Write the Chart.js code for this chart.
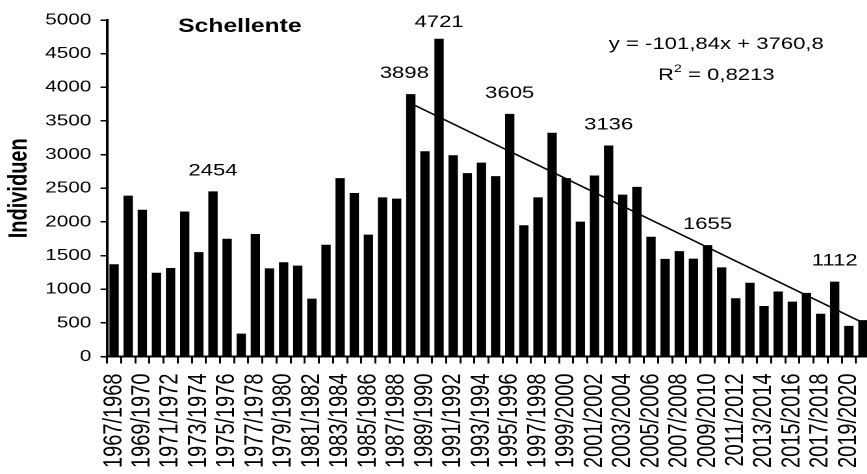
<!DOCTYPE html>
<html lang="de">
<head>
    <meta charset="UTF-8">
    <title>Schellente</title>
    <script src="https://cdn.jsdelivr.net/npm/chart.js"></script>
    <style>
        html, body { margin: 0; padding: 0; background: #fff; overflow: hidden; width: 867px; height: 474px; }
        /* the original picture is stretched sideways, so the chart is drawn narrower and widened */
        #wrap { width: 670px; height: 474px; transform: scaleX(1.3); transform-origin: 0 0; }
    </style>
</head>
<body>
<div id="wrap"><canvas id="schellenteChart"></canvas></div>
<script>
    const seasons = [
        '1967/1968', '1968/1969', '1969/1970', '1970/1971', '1971/1972', '1972/1973',
        '1973/1974', '1974/1975', '1975/1976', '1976/1977', '1977/1978', '1978/1979',
        '1979/1980', '1980/1981', '1981/1982', '1982/1983', '1983/1984', '1984/1985',
        '1985/1986', '1986/1987', '1987/1988', '1988/1989', '1989/1990', '1990/1991',
        '1991/1992', '1992/1993', '1993/1994', '1994/1995', '1995/1996', '1996/1997',
        '1997/1998', '1998/1999', '1999/2000', '2000/2001', '2001/2002', '2002/2003',
        '2003/2004', '2004/2005', '2005/2006', '2006/2007', '2007/2008', '2008/2009',
        '2009/2010', '2010/2011', '2011/2012', '2012/2013', '2013/2014', '2014/2015',
        '2015/2016', '2016/2017', '2017/2018', '2018/2019', '2019/2020', '2020/2021'
    ];
    const individuen = [
        1370, 2390, 2180, 1245, 1315, 2155,
        1550, 2454, 1750, 340, 1820, 1310,
        1400, 1350, 860, 1660, 2650, 2430,
        1810, 2365, 2345, 3898, 3050, 4721,
        2990, 2725, 2880, 2680, 3605, 1950,
        2365, 3325, 2650, 2005, 2690, 3136,
        2405, 2520, 1780, 1450, 1565, 1455,
        1655, 1325, 865, 1095, 750, 965,
        815, 945, 635, 1112, 455, 540
    ];
    const yTicks = [0, 500, 1000, 1500, 2000, 2500, 3000, 3500, 4000, 4500, 5000];
    // seasons whose count is written above the bar
    const labelledSeasons = ['1974/1975', '1988/1989', '1990/1991', '1995/1996', '2002/2003', '2009/2010', '2018/2019'];

    // linear trend from 1988/1989 (x = 0) to 2020/2021
    const trendSlope = -101.84;
    const trendIntercept = 3760.8;
    const trendFirst = '1988/1989';
    const trendLast = '2020/2021';
    const trendText = 'y = -101,84x + 3760,8';
    const r2Text = '0,8213';

    const i0 = seasons.indexOf(trendFirst);
    const i1 = seasons.indexOf(trendLast);
    const trendData = seasons.map((s, i) =>
        (i === i0 || i === i1) ? trendSlope * (i - i0) + trendIntercept : null);

    const FONT = "'Liberation Sans', Arial, sans-serif";

    const annotations = {
        id: 'annotations',
        afterDatasetsDraw(chart) {
            const ctx = chart.ctx;
            const bars = chart.getDatasetMeta(0).data;
            ctx.save();
            ctx.fillStyle = '#000';
            ctx.textBaseline = 'alphabetic';

            // values over the marked bars
            ctx.font = '17px ' + FONT;
            ctx.textAlign = 'center';
            labelledSeasons.forEach(s => {
                const i = seasons.indexOf(s);
                const b = bars[i];
                let dx = 0, dy = 16;
                if (s === '1988/1989') dx = -5;
                if (s === '1990/1991') dy = 12;
                ctx.fillText(String(individuen[i]), b.x + dx, b.y - dy);
            });

            // species name
            ctx.font = 'bold 19px ' + FONT;
            ctx.textAlign = 'left';
            ctx.fillText('Schellente', 137, 32);

            // trend equation
            ctx.font = '17px ' + FONT;
            ctx.textAlign = 'center';
            ctx.fillText(trendText, 551, 49);

            ctx.textAlign = 'left';
            const wR = ctx.measureText('R').width;
            const wRest = ctx.measureText(' = ' + r2Text).width;
            ctx.font = '11px ' + FONT;
            const w2 = ctx.measureText('2').width;
            let x = 551 - (wR + w2 + wRest) / 2;
            ctx.font = '17px ' + FONT;
            ctx.fillText('R', x, 80);
            ctx.font = '11px ' + FONT;
            ctx.fillText('2', x + wR, 72);
            ctx.font = '17px ' + FONT;
            ctx.fillText(' = ' + r2Text, x + wR + w2, 80);
            ctx.restore();
        }
    };

    new Chart(document.getElementById('schellenteChart'), {
        type: 'bar',
        data: {
            labels: seasons,
            datasets: [{
                label: 'Individuen',
                data: individuen,
                backgroundColor: '#000',
                barPercentage: 0.66,
                categoryPercentage: 1.0,
                order: 2
            }, {
                type: 'line',
                label: 'Trend',
                data: trendData,
                spanGaps: true,
                borderColor: '#000',
                borderWidth: 1.5,
                pointRadius: 0,
                order: 1
            }]
        },
        options: {
            responsive: true,
            maintainAspectRatio: false,
            devicePixelRatio: 2,
            animation: false,
            layout: { padding: { top: 20, left: 0, right: 0, bottom: 0 } },
            plugins: {
                legend: { display: false },
                tooltip: { enabled: false }
            },
            scales: {
                x: {
                    grid: {
                        display: true,
                        drawOnChartArea: false,
                        drawTicks: true,
                        tickLength: 7,
                        color: '#000',
                        lineWidth: 1.5,
                        offset: true
                    },
                    border: { display: true, color: '#000', width: 2 },
                    ticks: {
                        autoSkip: false,
                        minRotation: 90,
                        maxRotation: 90,
                        padding: 10,
                        color: '#000',
                        font: { family: FONT, size: 20 },
                        callback: function (value, index) {
                            return index % 2 === 0 ? seasons[index] : '';
                        }
                    },
                    afterFit: scale => {
                        scale.height = 117.5;
                        scale.paddingLeft = 0;
                        scale.paddingRight = 0;
                    }
                },
                y: {
                    min: 0,
                    max: 5000,
                    afterBuildTicks: scale => { scale.ticks = yTicks.map(v => ({ value: v })); },
                    grid: {
                        display: true,
                        drawOnChartArea: false,
                        drawTicks: true,
                        tickLength: 5,
                        color: '#000',
                        lineWidth: 1.5
                    },
                    border: { display: true, color: '#000', width: 2 },
                    ticks: {
                        padding: 7,
                        color: '#000',
                        font: { family: FONT, size: 16 },
                        callback: value => String(value)
                    },
                    title: {
                        display: true,
                        text: 'Individuen',
                        color: '#000',
                        font: { family: FONT, size: 20, weight: 'bold' },
                        padding: { top: 3, bottom: 0 }
                    },
                    afterFit: scale => { scale.width = 82.3; }
                }
            }
        },
        plugins: [annotations]
    });
</script>
</body>
</html>
